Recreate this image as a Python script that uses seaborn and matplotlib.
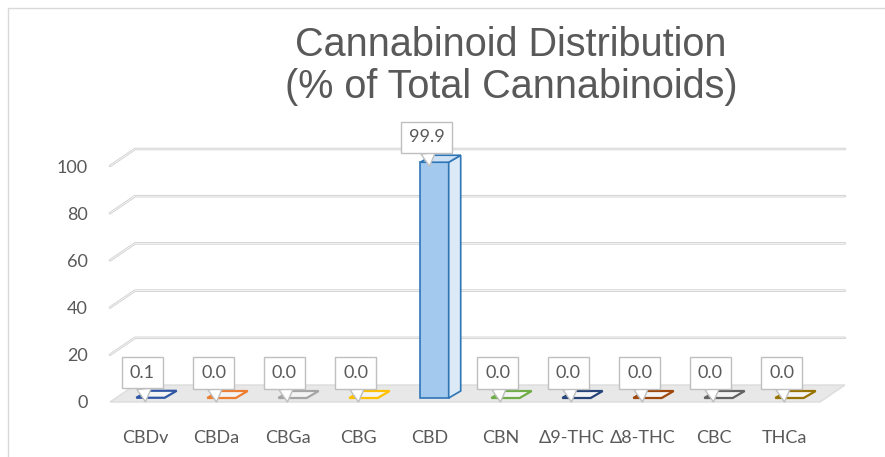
"""
Cannabinoid distribution chart (Excel-style 3D column look) drawn with seaborn.
"""

import matplotlib

matplotlib.use("Agg")
import matplotlib.pyplot as plt
import seaborn as sns
from matplotlib.patches import Polygon, Rectangle
from matplotlib.transforms import Affine2D

# chart data
categories = ["CBDv", "CBDa", "CBGa", "CBG", "CBD", "CBN",
              "\u03949-THC", "\u03948-THC", "CBC", "THCa"]
values = [0.1, 0.0, 0.0, 0.0, 99.9, 0.0, 0.0, 0.0, 0.0, 0.0]
labels = ["0.1", "0.0", "0.0", "0.0", "99.9", "0.0", "0.0", "0.0", "0.0", "0.0"]
colors = ["#2f55a4", "#ed7d31", "#a5a5a5", "#ffc000", "#5b9bd5",
          "#70ad47", "#264478", "#9e480e", "#636363", "#997300"]
y_ticks = [0, 20, 40, 60, 80, 100]

TEXT = "#595959"
GRID = "#d0d0d0"

sns.set_style("white")
plt.rcParams["font.family"] = ["Lato", "DejaVu Sans"]

fig = plt.figure(figsize=(8.85, 4.57), dpi=100)
ax = fig.add_axes([110 / 885, 55 / 457, 710 / 885, 236 / 457])

sns.barplot(x=categories, y=values, hue=categories, palette=colors,
            width=0.4, legend=False, ax=ax, saturation=1)
ax.set_xlim(-0.5, 9.5)
ax.set_ylim(0, 100)

# depth of the back wall and of the bars (display pixels)
wall = (25, 17)
sh = (5, 4)
sd = (17, 11)


def disp(x, y, off=(0, 0)):
    px, py = ax.transData.transform((x, y))
    return px + off[0], py + off[1]


# floor
floor = [disp(-0.5, 0), disp(9.5, 0), disp(9.5, 0, wall), disp(-0.5, 0, wall)]
ax.add_patch(Polygon(floor, closed=True, transform=None, fc="#e8e8e8",
                     ec="#dcdcdc", lw=1, zorder=0.5, clip_on=False))

# gridlines: diagonal on the side wall, then straight along the back wall
for t in y_ticks[1:]:
    pts = [disp(-0.5, t), disp(-0.5, t, wall), disp(9.5, t, wall)]
    xs, ys = zip(*pts)
    ax.add_line(plt.Line2D(xs, ys, transform=None, color=GRID, lw=1.8,
                           zorder=0.4, clip_on=False))
    ax.add_line(plt.Line2D(xs, ys, transform=None, color="white", lw=0.5,
                           zorder=0.41, clip_on=False))

# 3D bars: front face from seaborn, then top and side faces
bars = [p for p in ax.patches if isinstance(p, Rectangle)]
for bar, val, col in zip(bars, values, colors):
    bar.set_transform(ax.transData + Affine2D().translate(*sh))
    bar.set_clip_on(False)
    x0 = bar.get_x()
    x1 = x0 + bar.get_width()
    top = [disp(x0, val, sh), disp(x1, val, sh), disp(x1, val, sd), disp(x0, val, sd)]
    side = [disp(x1, 0, sh), disp(x1, val, sh), disp(x1, val, sd), disp(x1, 0, sd)]
    if val >= 1:
        bar.set_facecolor("#a4c9ee")
        bar.set_edgecolor("#2e75b6")
        bar.set_linewidth(1.2)
        ax.add_patch(Polygon(side, closed=True, transform=None, fc="#dce9f7",
                             ec="#2e75b6", lw=1.2, zorder=3, clip_on=False))
        ax.add_patch(Polygon(top, closed=True, transform=None, fc="#cfe2f5",
                             ec="#2e75b6", lw=1.2, zorder=3, clip_on=False))
    else:
        bar.set_visible(False)
        ax.add_patch(Polygon(top, closed=True, transform=None, fc="#f4f4f4",
                             ec=col, lw=1.6, zorder=3, clip_on=False))

# data labels as callouts
for i, (val, lab) in enumerate(zip(values, labels)):
    ax.annotate(lab, xy=(i, val), xytext=(-3, 29),
                textcoords="offset pixels", ha="center", va="center",
                fontsize=13, color=TEXT, zorder=6,
                bbox=dict(boxstyle="square,pad=0.42", fc="white", ec="#bfbfbf", lw=1),
                arrowprops=dict(arrowstyle="wedge,tail_width=0.8,shrink_factor=0.5",
                                fc="white", ec="#bfbfbf", lw=1,
                                shrinkA=0, shrinkB=0),
                annotation_clip=False)

# axes styling
sns.despine(ax=ax, left=True, bottom=True)
ax.set_yticks(y_ticks)
ax.set_yticklabels([str(t) for t in y_ticks])
ax.tick_params(axis="y", length=0, pad=16, labelsize=13, labelcolor=TEXT)
ax.tick_params(axis="x", length=0, pad=20, labelsize=13, labelcolor=TEXT)
ax.set_xlabel("")
ax.set_ylabel("")
ax.grid(False)
ax.patch.set_alpha(0)

# chart border
fig.patches.append(Rectangle((8 / 885, -0.01), 2, 1.01 - 8 / 457,
                             transform=fig.transFigure, fill=False,
                             ec="#d9d9d9", lw=1))

fig.text(511 / 885, 1 - 66 / 457,
         "Cannabinoid Distribution\n(% of Total Cannabinoids)",
         ha="center", va="center", fontsize=28.5, color=TEXT, linespacing=1.15,
         family=["Liberation Sans", "DejaVu Sans"])

fig.savefig("out.png", dpi=100)
